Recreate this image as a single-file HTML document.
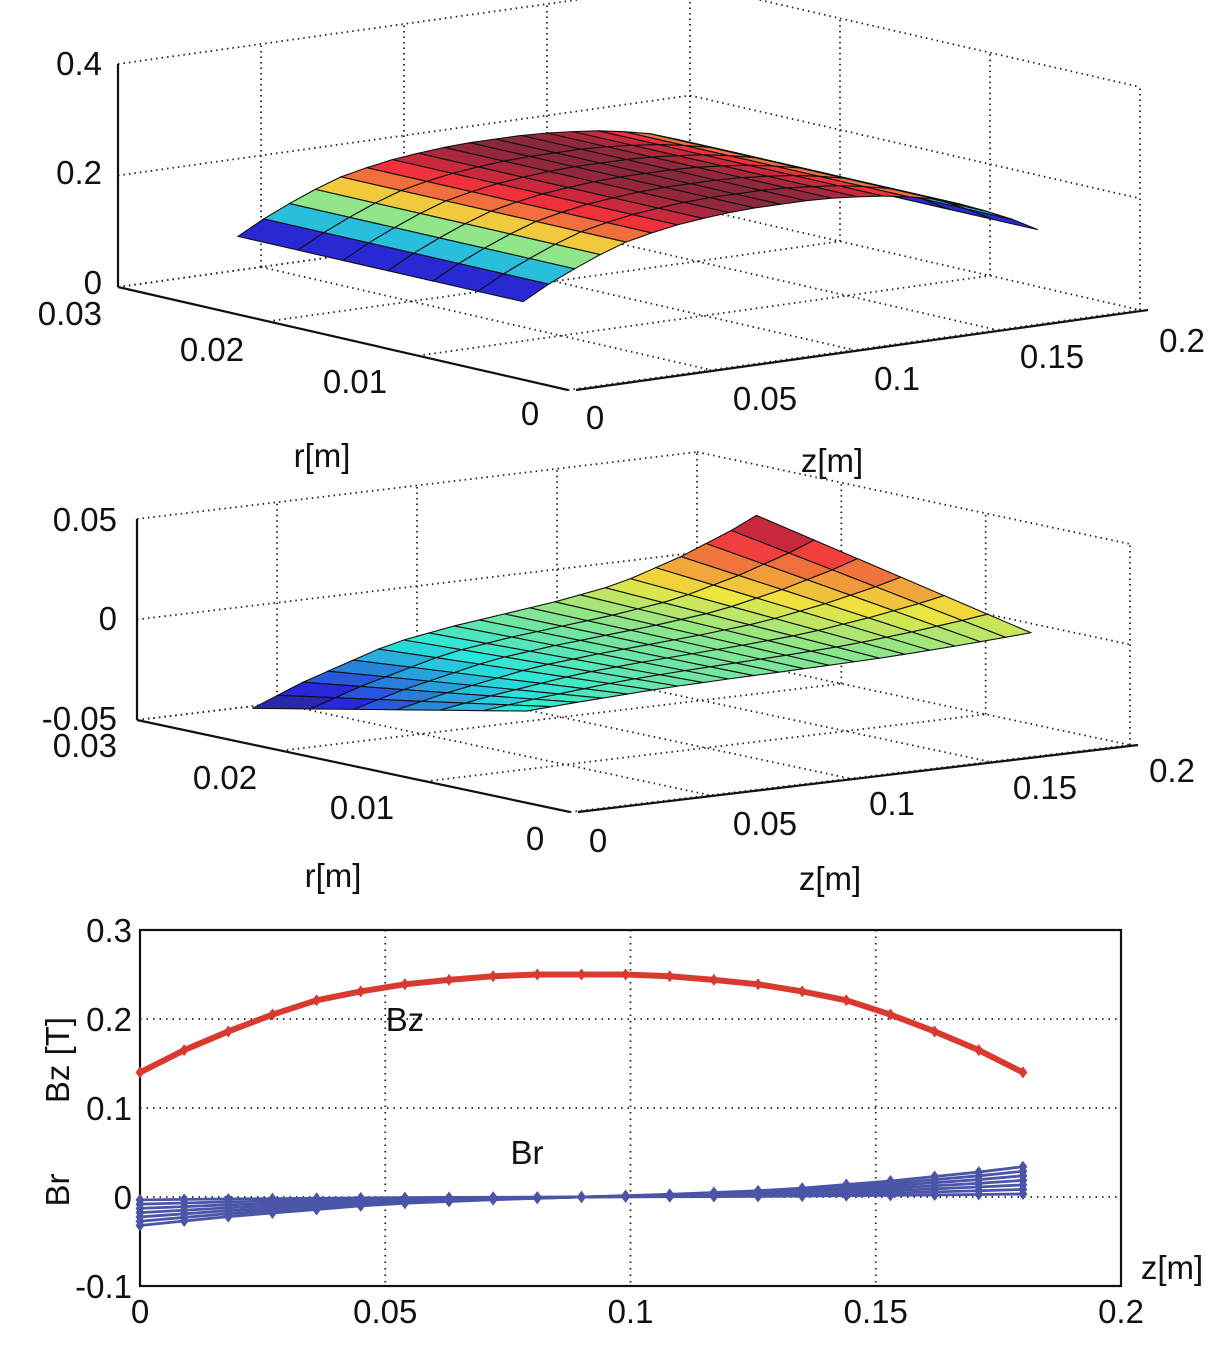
<!DOCTYPE html>
<html><head><meta charset="utf-8">
<style>
html,body{margin:0;padding:0;background:#fff;}
svg{display:block;font-family:"Liberation Sans",Arial,sans-serif;}
text{fill:#111;}
</style></head>
<body>
<svg id="fig" width="1226" height="1349" viewBox="0 0 1226 1349" xmlns="http://www.w3.org/2000/svg">
<g id="top"></g>
<g id="mid"></g>
<g id="bot"></g>
</svg>
<script>
// ---- data ----
const zVals = [0,0.009,0.018,0.027,0.036,0.045,0.054,0.063,0.072,0.081,0.09,0.099,0.108,0.117,0.126,0.135,0.144,0.153,0.162,0.171,0.18];
const bzVals = [0.14,0.165,0.186,0.205,0.221,0.231,0.239,0.244,0.248,0.25,0.25,0.25,0.248,0.244,0.239,0.231,0.221,0.205,0.186,0.165,0.14];
const brOuter = [-0.032,-0.027,-0.022,-0.018,-0.014,-0.010,-0.007,-0.005,-0.003,-0.0015,0,0.0015,0.003,0.005,0.007,0.010,0.014,0.018,0.023,0.028,0.034];
const rVals = [0.003,0.006,0.009,0.012,0.015,0.018,0.022];
const brLineFractions = [0.1,0.25,0.4,0.55,0.7,0.85,1.0];
const xTicks = [0,0.05,0.1,0.15,0.2];
const xTickLabels = ["0","0.05","0.1","0.15","0.2"];
const yTicks = [-0.1,0,0.1,0.2,0.3];
const yTickLabels = ["-0.1","0","0.1","0.2","0.3"];

const NS="http://www.w3.org/2000/svg";
const FS=33;
function mk(parent,tag,attrs,txt){const e=document.createElementNS(NS,tag);for(const k in attrs)e.setAttribute(k,attrs[k]);if(txt!==undefined)e.textContent=txt;parent.appendChild(e);return e;}
function jet(t){t=Math.max(0,Math.min(1,t));
 const r=Math.max(0,Math.min(1,1.5-Math.abs(4*t-3)));
 const g=Math.max(0,Math.min(1,1.5-Math.abs(4*t-2)));
 const b=Math.max(0,Math.min(1,1.5-Math.abs(4*t-1)));
 return `rgb(${Math.round(r*200+40)},${Math.round(g*190+40)},${Math.round(b*160+60)})`;}
function brAt(ri,zi){return brOuter[zi]*rVals[ri]/rVals[rVals.length-1];}

function surfacePlot(g,cfg){
 const P=(r,z,v)=>[cfg.o[0]+r/0.03*cfg.rv[0]+z/0.2*cfg.zv[0], cfg.o[1]+r/0.03*cfg.rv[1]+z/0.2*cfg.zv[1]-(v-cfg.vmin)/(cfg.vmax-cfg.vmin)*cfg.vh];
 const dot={stroke:"#222","stroke-width":1.8,"stroke-dasharray":"1.5 4",fill:"none"};
 const line=(a,b,st,name)=>{const l=mk(g,"line",Object.assign({x1:a[0],y1:a[1],x2:b[0],y2:b[1]},st));};
 cfg.vt.forEach(v=>{line(P(0.03,0,v),P(0.03,0.2,v),dot,'grid-line');line(P(0.03,0.2,v),P(0,0.2,v),dot,'grid-line');});
 [0,0.05,0.1,0.15].forEach(z=>{line(P(0.03,z,cfg.vmin),P(0.03,z,cfg.vmax),dot,'grid-line');line(P(0.03,z,cfg.vmin),P(0,z,cfg.vmin),dot,'grid-line');});
 [0.03,0.02,0.01,0].forEach(r=>{line(P(r,0.2,cfg.vmin),P(r,0.2,cfg.vmax),dot,'grid-line');line(P(r,0,cfg.vmin),P(r,0.2,cfg.vmin),dot,'grid-line');});
 const ax={stroke:"#111","stroke-width":2.2,fill:"none"};
 line(P(0.03,0,cfg.vmin),P(0.03,0,cfg.vmax),ax,'z-axis');
 line(P(0.03,0,cfg.vmin),P(0,0,cfg.vmin),ax,'r-axis');
 const z0=P(0,0,cfg.vmin);
 line([z0[0]+8,z0[1]],P(0,0.2,cfg.vmin).map((c,i)=>c+(i?0:8)),ax,'z-axis');
 const quads=[];
 for(let i=0;i<rVals.length-1;i++)for(let j=0;j<zVals.length-1;j++){
  const pts=[[i,j],[i+1,j],[i+1,j+1],[i,j+1]];
  const vals=pts.map(p=>cfg.val(p[0],p[1]));
  const avg=vals.reduce((a,b)=>a+b)/4;
  const depth=(rVals[i]+rVals[i+1])/2/0.03+(zVals[j]+zVals[j+1])/2/0.2*0.6;
  quads.push({pts,vals,avg,depth});}
 quads.sort((a,b)=>b.depth-a.depth);
 quads.forEach(q=>{
  const d=q.pts.map((p,k)=>P(rVals[p[0]],zVals[p[1]],q.vals[k]).join(",")).join(" ");
  const pg=mk(g,"polygon",{points:d,fill:jet((q.avg-cfg.cmin)/(cfg.cmax-cfg.cmin)),stroke:"#111","stroke-width":1.1});
  
  
 });
 cfg.labels.forEach(l=>{const t=mk(g,"text",{x:l[1],y:l[2],"font-size":FS,"text-anchor":l[3]||"start"},l[0]);});
}

surfacePlot(document.getElementById('top'),{
 o:[568,390],rv:[-450,-103],zv:[572,-80],vmin:0,vmax:0.4,vh:223,vt:[0,0.2,0.4],
 cmin:0.14,cmax:0.25,val:(i,j)=>bzVals[j],
 labels:[["0.4",102,75,"end","z-tick-label"],["0.2",102,184,"end","z-tick-label"],["0",102,294,"end","z-tick-label"],
  ["0.03",102,325,"end","r-tick-label"],["0.02",212,361,"middle","r-tick-label"],["0.01",355,393,"middle","r-tick-label"],["0",530,425,"middle","r-tick-label"],
  ["0",595,429,"middle","z-tick-label"],["0.05",765,410,"middle","z-tick-label"],["0.1",897,390,"middle","z-tick-label"],["0.15",1052,368,"middle","z-tick-label"],["0.2",1182,352,"middle","z-tick-label"],
  ["r[m]",322,467,"middle","r-axis-title"],["z[m]",832,472,"middle","z-axis-title"]]
});
surfacePlot(document.getElementById('mid'),{
 o:[570,812],rv:[-433,-92],zv:[560,-67],vmin:-0.05,vmax:0.05,vh:201,vt:[-0.05,0,0.05],
 cmin:-0.03,cmax:0.033,val:(i,j)=>brAt(i,j),
 labels:[["0.05",117,531,"end","z-tick-label"],["0",117,630,"end","z-tick-label"],["-0.05",117,730,"end","z-tick-label"],
  ["0.03",117,757,"end","r-tick-label"],["0.02",225,789,"middle","r-tick-label"],["0.01",362,819,"middle","r-tick-label"],["0",535,850,"middle","r-tick-label"],
  ["0",598,852,"middle","z-tick-label"],["0.05",765,835,"middle","z-tick-label"],["0.1",892,815,"middle","z-tick-label"],["0.15",1045,799,"middle","z-tick-label"],["0.2",1172,782,"middle","z-tick-label"],
  ["r[m]",333,887,"middle","r-axis-title"],["z[m]",830,890,"middle","z-axis-title"]]
});

(function(){
 const g=document.getElementById('bot');
 const L=140,R=1121,T=930,B=1286;
 const X=z=>L+(z-0)/0.2*(R-L);
 const Y=v=>B-(v+0.1)/0.4*(B-T);
 yTicks.forEach((v,i)=>{
  if(v>-0.1&&v<0.3){const l=mk(g,"line",{x1:L,y1:Y(v),x2:R,y2:Y(v),stroke:"#222","stroke-width":1.8,"stroke-dasharray":"1.5 5"});}
  const t=mk(g,"text",{x:L-8,y:Y(v)+12,"font-size":FS,"text-anchor":"end"},yTickLabels[i]);
  
 });
 xTicks.forEach((z,i)=>{
  if(z>0&&z<0.2){const l=mk(g,"line",{x1:X(z),y1:T,x2:X(z),y2:B,stroke:"#222","stroke-width":1.8,"stroke-dasharray":"1.5 5"});}
  const t=mk(g,"text",{x:X(z),y:B+37,"font-size":FS,"text-anchor":"middle"},xTickLabels[i]);
  
 });
 const box=mk(g,"rect",{x:L,y:T,width:R-L,height:B-T,fill:"none",stroke:"#111","stroke-width":2.2});
 
 function series(vals,color,w,name){
  const pts=vals.map((v,i)=>X(zVals[i])+","+Y(v)).join(" ");
  const pl=mk(g,"polyline",{points:pts,fill:"none",stroke:color,"stroke-width":w});
  
  vals.forEach((v,i)=>{const x=X(zVals[i]),y=Y(v);
   const m=mk(g,"polygon",{points:`${x},${y-6} ${x+4.5},${y} ${x},${y+6} ${x-4.5},${y}`,fill:color});
   });
 }
 brLineFractions.forEach(f=>series(brOuter.map(v=>v*f),"#4b55a8",2.8,"br-line"));
 series(bzVals,"#d83a30",6,"bz-line");
 const lab=[["Bz",405,1031,"bz-label"],["Br",527,1164,"br-label"],["z[m]",1172,1279,"x-axis-title"]];
 lab.forEach(l=>{const t=mk(g,"text",{x:l[1],y:l[2],"font-size":FS,"text-anchor":"middle"},l[0]);});
 const yt=mk(g,"text",{x:0,y:0,"font-size":FS,"text-anchor":"middle",transform:"translate(69,1060) rotate(-90)"},"Bz [T]");
 
 const yt2=mk(g,"text",{x:0,y:0,"font-size":FS,"text-anchor":"middle",transform:"translate(69,1190) rotate(-90)"},"Br");
 
})();
</script>
</body></html>
